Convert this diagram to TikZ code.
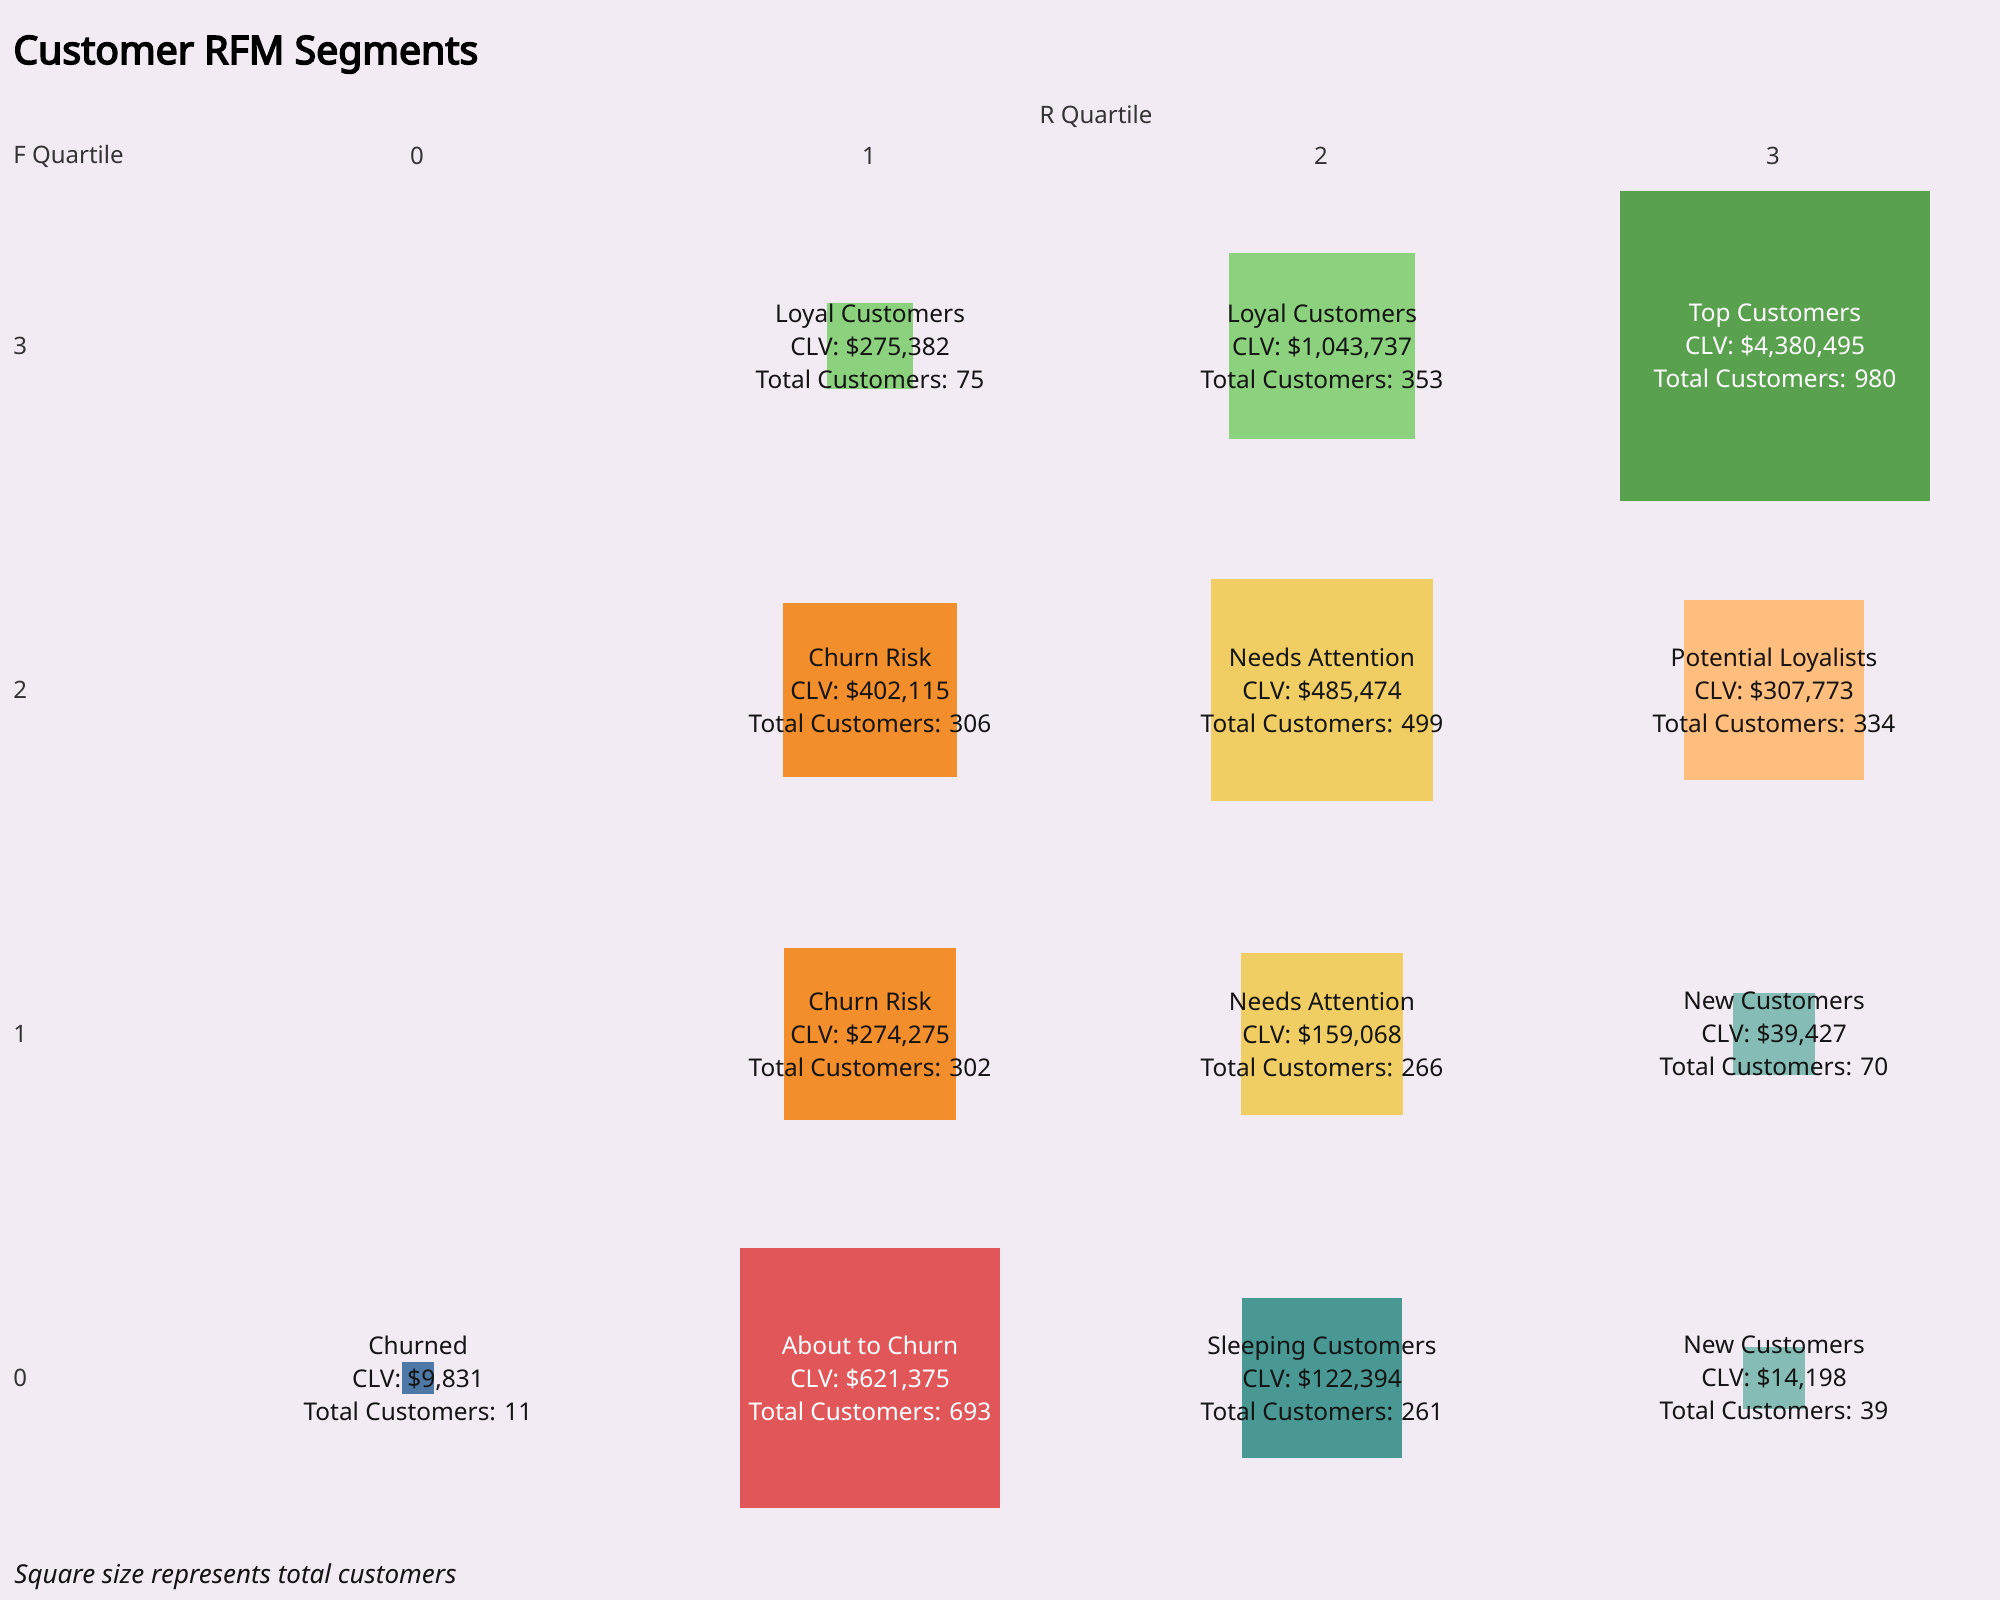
\documentclass[tikz,border=0pt]{standalone}
\usepackage{fontspec}
\setmainfont{Noto Sans}
\newfontfamily\titlefont{Noto Sans}[FakeBold=4]
\usepackage{tikz}
\definecolor{bgLilac}{RGB}{243,235,243}
\definecolor{headGray}{RGB}{51,51,51}
\definecolor{inkBlack}{RGB}{20,20,20}
\definecolor{loyalGreen}{RGB}{140,209,125}
\definecolor{topGreen}{RGB}{89,161,79}
\definecolor{churnOrange}{RGB}{242,142,43}
\definecolor{needYellow}{RGB}{241,206,99}
\definecolor{potPeach}{RGB}{255,190,125}
\definecolor{newTeal}{RGB}{134,188,182}
\definecolor{sleepTeal}{RGB}{73,152,148}
\definecolor{aboutRed}{RGB}{225,87,89}
\definecolor{churnedBlue}{RGB}{78,121,167}

\begin{document}
\begin{tikzpicture}[x=0.5pt, y=-0.5pt,
    sq/.style={minimum size={4.95pt*sqrt(#1)}, inner sep=0pt, outer sep=0pt},
    lbl/.style={align=center, inner sep=0pt, text=inkBlack, font=\fontsize{12.2}{16.5}\selectfont},
    hdr/.style={inner sep=0pt, text=headGray, font=\fontsize{12}{14}\selectfont}]
        \fill[bgLilac] (0, 0) rectangle (2000, 1600);
        \useasboundingbox (0, 0) rectangle (2000, 1600);
        %\draw[step=100, gray, very thin] (0, 0) grid (2000, 1600);
        \node[anchor=base west, inner sep=0pt, font=\fontsize{19.6}{23}\titlefont] (title) at (13, 64) {Customer RFM Segments};
        \node[hdr] (rhead) at (1096, 116) {R Quartile};
        \node[hdr, anchor=west] (fhead) at (13, 156) {F Quartile};
        \node[hdr] (r0) at (417, 156) {0};
        \node[hdr] (r1) at (869, 156) {1};
        \node[hdr] (r2) at (1321, 156) {2};
        \node[hdr] (r3) at (1773, 156) {3};
        \node[hdr, anchor=west] (f3) at (13, 346) {3};
        \node[hdr, anchor=west] (f2) at (13, 690) {2};
        \node[hdr, anchor=west] (f1) at (13, 1034) {1};
        \node[hdr, anchor=west] (f0) at (13, 1378) {0};
        % F = 3
        \node[sq=75, fill=loyalGreen] (loyalOne) at (870, 346) {};
        \node[lbl] (loyalOneTxt) at (870, 346) {Loyal Customers\\CLV: \$275,382\\Total Customers: 75};
        \node[sq=353, fill=loyalGreen] (loyalTwo) at (1322, 346) {};
        \node[lbl] (loyalTwoTxt) at (1322, 346) {Loyal Customers\\CLV: \$1,043,737\\Total Customers: 353};
        \node[sq=980, fill=topGreen] (top) at (1775, 346) {};
        \node[lbl, text=white] (topTxt) at (1775, 346) {Top Customers\\CLV: \$4,380,495\\Total Customers: 980};
        % F = 2
        \node[sq=306, fill=churnOrange] (riskTwo) at (870, 690) {};
        \node[lbl] (riskTwoTxt) at (870, 690) {Churn Risk\\CLV: \$402,115\\Total Customers: 306};
        \node[sq=499, fill=needYellow] (needTwo) at (1322, 690) {};
        \node[lbl] (needTwoTxt) at (1322, 690) {Needs Attention\\CLV: \$485,474\\Total Customers: 499};
        \node[sq=334, fill=potPeach] (potential) at (1774, 690) {};
        \node[lbl] (potentialTxt) at (1774, 690) {Potential Loyalists\\CLV: \$307,773\\Total Customers: 334};
        % F = 1
        \node[sq=302, fill=churnOrange] (riskOne) at (870, 1034) {};
        \node[lbl] (riskOneTxt) at (870, 1034) {Churn Risk\\CLV: \$274,275\\Total Customers: 302};
        \node[sq=266, fill=needYellow] (needOne) at (1322, 1034) {};
        \node[lbl] (needOneTxt) at (1322, 1034) {Needs Attention\\CLV: \$159,068\\Total Customers: 266};
        \node[sq=70, fill=newTeal] (newOne) at (1774, 1034) {};
        \node[lbl] (newOneTxt) at (1774, 1034) {New Customers\\CLV: \$39,427\\Total Customers: 70};
        % F = 0
        \node[sq=11, fill=churnedBlue] (churned) at (418, 1378) {};
        \node[lbl] (churnedTxt) at (418, 1378) {Churned\\CLV: \$9,831\\Total Customers: 11};
        \node[sq=693, fill=aboutRed] (about) at (870, 1378) {};
        \node[lbl, text=white] (aboutTxt) at (870, 1378) {About to Churn\\CLV: \$621,375\\Total Customers: 693};
        \node[sq=261, fill=sleepTeal] (sleeping) at (1322, 1378) {};
        \node[lbl] (sleepingTxt) at (1322, 1378) {Sleeping Customers\\CLV: \$122,394\\Total Customers: 261};
        \node[sq=39, fill=newTeal] (newZero) at (1774, 1378) {};
        \node[lbl] (newZeroTxt) at (1774, 1378) {New Customers\\CLV: \$14,198\\Total Customers: 39};
        \node[anchor=base west, inner sep=0pt, text=inkBlack, font=\fontsize{13}{15}\selectfont\itshape] (note) at (14, 1583) {Square size represents total customers};
    \end{tikzpicture}
\end{document}
